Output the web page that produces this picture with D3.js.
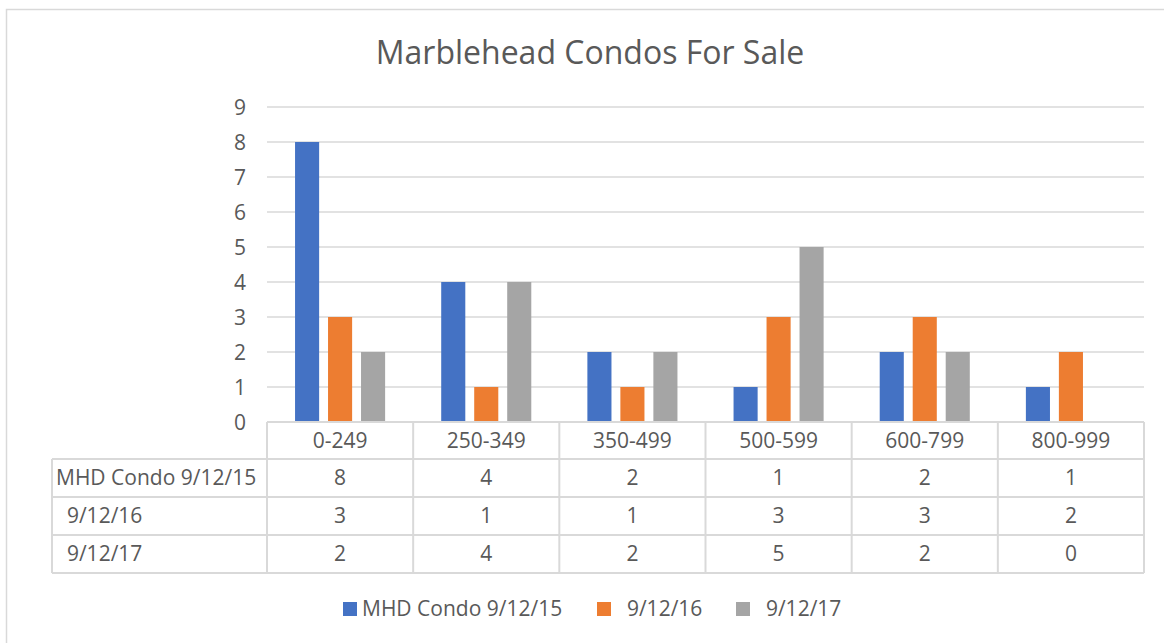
<!DOCTYPE html>
<html>
<head>
<meta charset="utf-8">
<script src="https://cdn.jsdelivr.net/npm/d3@7"></script>
<style>
  body { margin: 0; background: #fff; }
  svg text { font-family: "Open Sans", "Noto Sans", sans-serif; fill: #595959; white-space: pre; }
</style>
</head>
<body>
<div id="chart"></div>
<script>
// data
var categories = ['0-249', '250-349', '350-499', '500-599', '600-799', '800-999'];
var seriesNames = ['MHD Condo 9/12/15', '  9/12/16', '  9/12/17'];
var condo15 = [8, 4, 2, 1, 2, 1];
var condo16 = [3, 1, 1, 3, 3, 2];
var condo17 = [2, 4, 2, 5, 2, 0];
var yTicks = [0, 1, 2, 3, 4, 5, 6, 7, 8, 9];
var colors = ['#4472C4', '#ED7D31', '#A5A5A5'];

var allSeries = [condo15, condo16, condo17];

var width = 1164, height = 643;
var plotLeft = 267, plotRight = 1144, plotTop = 107, plotBottom = 422;
var tableLeft = 52;
var headerH = 37, rowH = 38;
var fs = '21px';

var svg = d3.select('#chart').append('svg')
    .attr('width', width)
    .attr('height', height);

// chart frame (clipped on right/bottom like the screenshot)
svg.append('rect')
    .attr('x', 6.5).attr('y', 9.5)
    .attr('width', width + 10).attr('height', height + 10)
    .attr('fill', 'none')
    .attr('stroke', '#D9D9D9')
    .attr('stroke-width', 1.5);

// title
svg.append('text')
    .attr('x', 590).attr('y', 64)
    .attr('text-anchor', 'middle')
    .style('font-size', '32px')
    .text('Marblehead Condos For Sale');

var x0 = d3.scaleBand()
    .domain(categories)
    .range([plotLeft, plotRight]);

var x1 = d3.scaleBand()
    .domain(d3.range(seriesNames.length))
    .range([0, x0.bandwidth()])
    .paddingInner(0.27)
    .paddingOuter(0.85);

var y = d3.scaleLinear()
    .domain([0, 9])
    .range([plotBottom, plotTop]);

// gridlines
svg.append('g')
    .selectAll('line')
    .data(yTicks.filter(d => d > 0))
    .join('line')
    .attr('x1', plotLeft).attr('x2', plotRight)
    .attr('y1', d => y(d)).attr('y2', d => y(d))
    .attr('stroke', '#D9D9D9')
    .attr('stroke-width', 1.5);

// y axis labels
var yaxis = d3.axisLeft(y).tickValues(yTicks).tickSize(0).tickPadding(0);
var yg = svg.append('g')
    .attr('transform', 'translate(246,0)')
    .call(yaxis);
yg.select('.domain').remove();
yg.selectAll('text')
    .style('font-size', fs)
    .attr('dy', '0.35em')
    .attr('fill', '#595959');

// bars
svg.append('g')
    .selectAll('g')
    .data(allSeries)
    .join('g')
    .attr('fill', (d, i) => colors[i])
    .each(function(vals, si) {
        d3.select(this).selectAll('rect')
            .data(vals)
            .join('rect')
            .attr('x', (d, ci) => x0(categories[ci]) + x1(si))
            .attr('width', x1.bandwidth())
            .attr('y', d => y(d))
            .attr('height', d => y(0) - y(d));
    });

// data table
var table = svg.append('g');
var tableBottom = plotBottom + headerH + rowH * seriesNames.length;
var lineColor = '#D9D9D9';

// horizontal lines
var hLines = [plotBottom, plotBottom + headerH];
seriesNames.forEach((s, i) => hLines.push(plotBottom + headerH + rowH * (i + 1)));
table.selectAll('line.h')
    .data(hLines)
    .join('line')
    .attr('class', 'h')
    .attr('x1', (d, i) => i === 0 ? plotLeft : tableLeft)
    .attr('x2', plotRight)
    .attr('y1', d => d).attr('y2', d => d)
    .attr('stroke', lineColor).attr('stroke-width', 2);

// vertical lines
var vLines = categories.map(c => x0(c)).concat([plotRight]);
table.selectAll('line.v')
    .data(vLines)
    .join('line')
    .attr('class', 'v')
    .attr('x1', d => d).attr('x2', d => d)
    .attr('y1', plotBottom).attr('y2', tableBottom)
    .attr('stroke', lineColor).attr('stroke-width', 2);

table.append('line')
    .attr('x1', tableLeft).attr('x2', tableLeft)
    .attr('y1', plotBottom + headerH).attr('y2', tableBottom)
    .attr('stroke', lineColor).attr('stroke-width', 2);

// category header
table.selectAll('text.cat')
    .data(categories)
    .join('text')
    .attr('class', 'cat')
    .attr('x', d => x0(d) + x0.bandwidth() / 2)
    .attr('y', plotBottom + headerH / 2)
    .attr('dy', '0.35em')
    .attr('text-anchor', 'middle')
    .style('font-size', fs)
    .text(d => d);

// rows
seriesNames.forEach(function(name, si) {
    var cy = plotBottom + headerH + rowH * si + rowH / 2;
    table.append('text')
        .attr('x', tableLeft + 4)
        .attr('y', cy)
        .attr('dy', '0.35em')
        .style('font-size', fs)
        .text(name);
    table.selectAll('text.v' + si)
        .data(allSeries[si])
        .join('text')
        .attr('class', 'v' + si)
        .attr('x', (d, ci) => x0(categories[ci]) + x0.bandwidth() / 2)
        .attr('y', cy)
        .attr('dy', '0.35em')
        .attr('text-anchor', 'middle')
        .style('font-size', fs)
        .text(d => d);
});

// legend
var legendX = [343, 597, 736];
var legend = svg.append('g');
seriesNames.forEach(function(name, i) {
    legend.append('rect')
        .attr('x', legendX[i]).attr('y', 602)
        .attr('width', 14).attr('height', 14)
        .attr('fill', colors[i]);
    legend.append('text')
        .attr('x', legendX[i] + 19)
        .attr('y', 609)
        .attr('dy', '0.35em')
        .style('font-size', fs)
        .text(name);
});
</script>
</body>
</html>
